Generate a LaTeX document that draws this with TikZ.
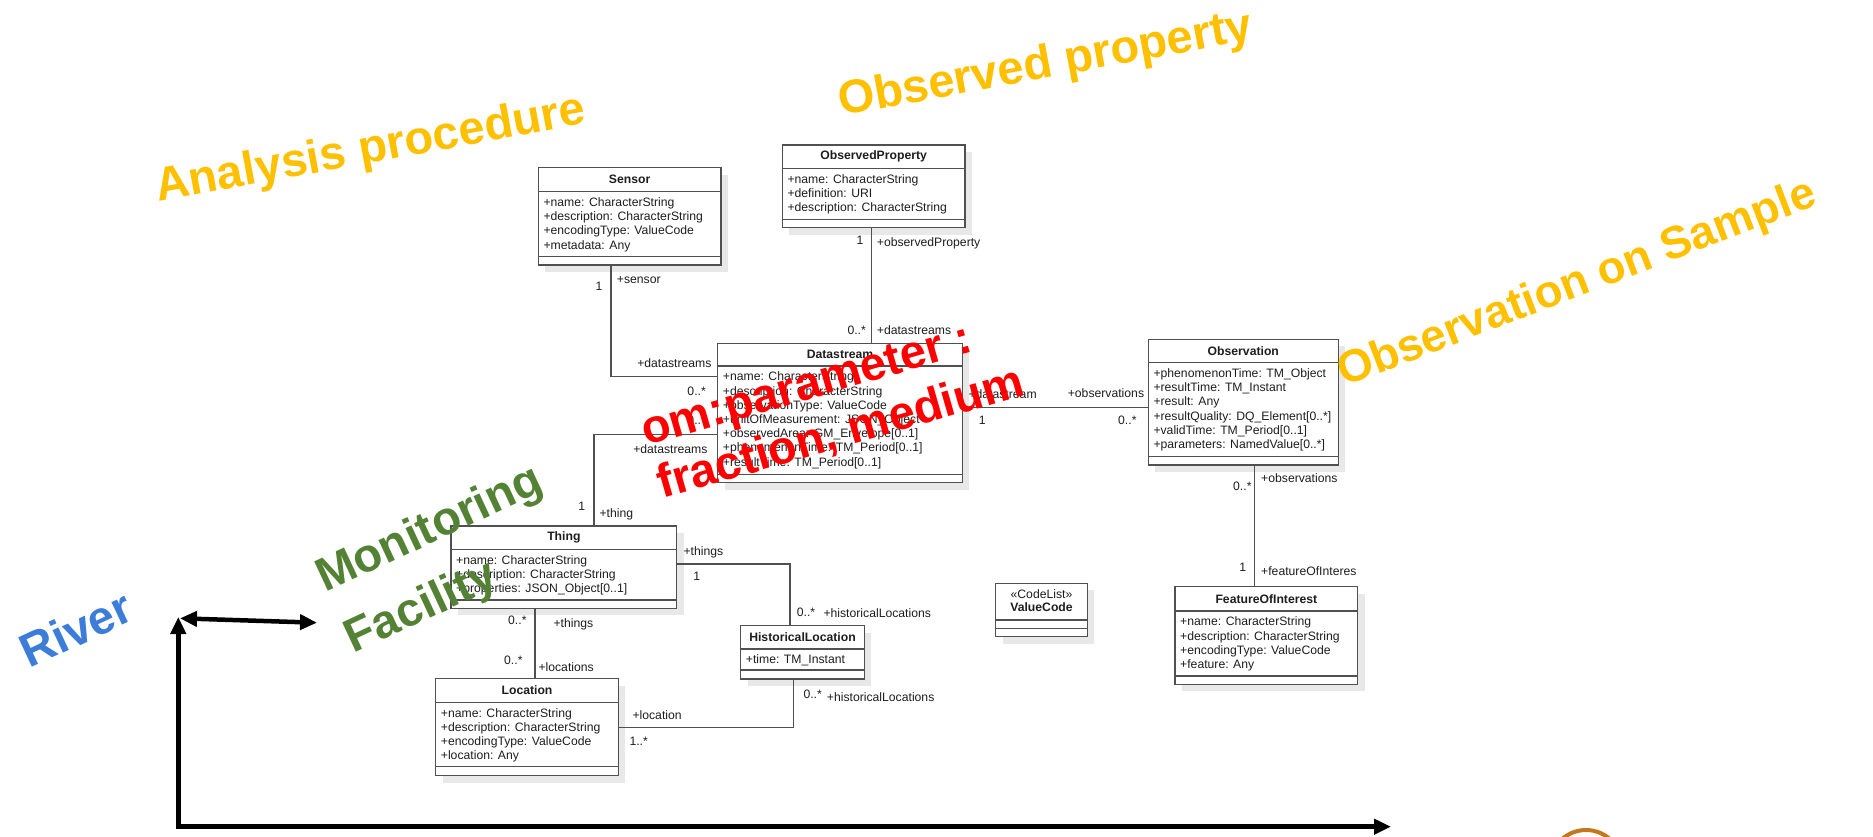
\documentclass[tikz,border=0pt]{standalone}
\usepackage{fontspec}
\setmainfont{Liberation Sans}
\usetikzlibrary{arrows.meta,calc}
\definecolor{ogold}{RGB}{255,192,0}
\definecolor{mgreen}{RGB}{84,130,53}
\definecolor{rblue}{RGB}{59,125,216}
\definecolor{cbrown}{RGB}{196,120,30}
\definecolor{uline}{RGB}{80,80,80}
\definecolor{utext}{RGB}{30,30,30}
\definecolor{ushadow}{RGB}{232,232,232}

% #1 name, #2 left, #3 top, #4 right, #5 bottom, #6 header sep, #7 attr sep, #8 title
\newcommand{\umlclass}[8]{%
  \fill[ushadow] (#2+7,#3+7) rectangle (#4+7,#5+7);
  \pgfmathsetmacro\umlw{#4-#2}\pgfmathsetmacro\umlh{#5-#3}
  \node[umlframe, minimum width=\umlw pt, minimum height=\umlh pt] (#1) at (#2,#3) {};
  \draw[conn] (#2,#6) -- (#4,#6) (#2,#7) -- (#4,#7);
  \node[umltitle] (#1-title) at ({(#2+#4)/2},{(#3+#6)/2}) {#8};
}
% #1 name, #2 left, #3 header sep, #4 list of attributes
\newcommand{\umlattrs}[4]{%
  \foreach \atext [count=\ai] in {#4} {
    \node[umlattr] (#1-a\ai) at (#2+5, #3+0.6+14.2*\ai) {\atext};
  }
}

\begin{document}
\begin{tikzpicture}[x=1pt,y=-1pt,
  umlframe/.style={draw=uline, line width=1.2pt, fill=white, inner sep=0pt, outer sep=0pt, anchor=north west},
  umltitle/.style={font=\fontsize{12.2}{14}\selectfont\bfseries, text=utext, inner sep=0pt},
  umlattr/.style={font=\fontsize{12.2}{14}\selectfont, text=utext, inner sep=0pt, anchor=base west},
  conn/.style={draw=uline, line width=1.2pt},
  lab/.style={font=\fontsize{12.2}{14}\selectfont, text=utext, inner sep=0pt},
  bigarrow/.style={line width=4.5pt, line join=miter, {Triangle[length=17pt,width=15pt]}-{Triangle[length=17pt,width=15pt]}},
  overlaytxt/.style={font=\fontsize{47}{56}\selectfont\bfseries, inner sep=0pt, anchor=base west}]

\fill[white] (0,0) rectangle (1873,836);
\useasboundingbox (0,0) rectangle (1873,836);

% ---------- classes ----------
\umlclass{sensor}{538.3}{167.7}{721}{265}{191.7}{256.7}{Sensor}
\umlattrs{sensor}{538.3}{191.7}{+name: CharacterString,+description: CharacterString,+encodingType: ValueCode,+metadata: Any}

\umlclass{op}{782.3}{145}{965}{227.7}{168.3}{219.3}{ObservedProperty}
\umlattrs{op}{782.3}{168.3}{+name: CharacterString,+definition: URI,+description: CharacterString}

\umlclass{ds}{717.7}{343.3}{962.3}{482.7}{366}{474.3}{Datastream}
\umlattrs{ds}{717.7}{366}{+name: CharacterString,+description: CharacterString,+observationType: ValueCode,+unitOfMeasurement: JSON\_Object,+observedArea: GM\_Envelope[0..1],+phenomenonTime: TM\_Period[0..1],+resultTime: TM\_Period[0..1]}

\umlclass{obs}{1148.3}{339.3}{1338.3}{465}{362.7}{456.7}{Observation}
\umlattrs{obs}{1148.3}{362.7}{+phenomenonTime: TM\_Object,+resultTime: TM\_Instant,+result: Any,+resultQuality: DQ\_Element[0..*],+validTime: TM\_Period[0..1],+parameters: NamedValue[0..*]}

\umlclass{thing}{451}{526}{676.7}{608.3}{549.3}{600}{Thing}
\umlattrs{thing}{451}{549.3}{+name: CharacterString,+description: CharacterString,+properties: JSON\_Object[0..1]}

\umlclass{hl}{740.7}{625.7}{864.3}{679}{649}{670}{HistoricalLocation}
\umlattrs{hl}{740.7}{649}{+time: TM\_Instant}

\umlclass{loc}{435.7}{678.7}{618.3}{775.7}{702.3}{766.7}{Location}
\umlattrs{loc}{435.7}{702.3}{+name: CharacterString,+description: CharacterString,+encodingType: ValueCode,+location: Any}

\umlclass{foi}{1175}{586.7}{1357.7}{684.3}{611}{676}{FeatureOfInterest}
\umlattrs{foi}{1175}{611}{+name: CharacterString,+description: CharacterString,+encodingType: ValueCode,+feature: Any}

% ValueCode code list
\fill[ushadow] (1002.7,590.3) rectangle (1094.3,643.7);
\node[umlframe, minimum width=91.6pt, minimum height=53.4pt] (vc) at (995.7,583.3) {};
\draw[conn] (995.7,620) -- (1087.3,620) (995.7,628.3) -- (1087.3,628.3);
\node[lab] (vc-st) at (1041.5,594) {«CodeList»};
\node[umltitle] (vc-title) at (1041.5,607.3) {ValueCode};

% ---------- connectors ----------
\draw[conn] ([xshift=72.7pt]sensor.south west) |- ([yshift=-33.4pt]ds.north west);
\draw[conn] ([xshift=89.4pt]op.south west) -- ([xshift=154pt]ds.north west);
\draw[conn] ([yshift=-91pt]ds.north west) -| ([xshift=143pt]thing.north west);
\draw[conn] ([yshift=-64.4pt]ds.north east) -- ([yshift=-68.4pt]obs.north west);
\draw[conn] ([xshift=106pt]obs.south west) -- ([xshift=79.3pt]foi.north west);
\draw[conn] ([yshift=-38pt]thing.north east) -| ([xshift=49.3pt]hl.north west);
\draw[conn] ([xshift=52.6pt]hl.south west) |- ([yshift=-48.6pt]loc.north east);
\draw[conn] ([xshift=84pt]thing.south west) -- ([xshift=99.3pt]loc.north west);

% ---------- connector labels ----------
\node[lab] (l1) at (599,286) {1};
\node[lab, anchor=west] (l2) at (616.7,280) {+sensor};
\node[lab, anchor=east] (l3) at (711.7,363.3) {+datastreams};
\node[lab, anchor=east] (l4) at (706,391) {0..*};

\node[lab] (l5) at (860,240) {1};
\node[lab, anchor=west] (l6) at (876.7,243.6) {+observedProperty};
\node[lab, anchor=east] (l7) at (866,330) {0..*};
\node[lab, anchor=west] (l8) at (876.7,330) {+datastreams};

\node[lab, anchor=east] (l9) at (706,420) {0..*};
\node[lab, anchor=east] (l10) at (707.7,449) {+datastreams};
\node[lab] (l11) at (581.7,506.7) {1};
\node[lab, anchor=west] (l12) at (599.3,514.3) {+thing};

\node[lab, anchor=west] (l13) at (968.3,394.3) {+datastream};
\node[lab] (l14) at (982.3,420.7) {1};
\node[lab, anchor=east] (l15) at (1144.3,393.3) {+observations};
\node[lab, anchor=east] (l16) at (1136.7,420.7) {0..*};

\node[lab, anchor=east] (l17) at (1251.7,486.7) {0..*};
\node[lab, anchor=west] (l18) at (1261,477.7) {+observations};
\node[lab] (l19) at (1242.7,567.7) {1};
\node[lab, anchor=west] (l20) at (1261,570.7) {+featureOfInteres};

\node[lab, anchor=west] (l21) at (683.3,552.3) {+things};
\node[lab] (l22) at (696.7,576.7) {1};
\node[lab, anchor=west] (l23) at (796.7,612.7) {0..*};
\node[lab, anchor=west] (l24) at (823.3,612.7) {+historicalLocations};

\node[lab, anchor=west] (l25) at (803.3,694) {0..*};
\node[lab, anchor=west] (l26) at (826.7,697.3) {+historicalLocations};
\node[lab, anchor=west] (l27) at (632.3,715.3) {+location};
\node[lab, anchor=west] (l28) at (629.3,741) {1..*};

\node[lab, anchor=east] (l29) at (526.7,620) {0..*};
\node[lab, anchor=west] (l30) at (553.3,624) {+things};
\node[lab, anchor=east] (l31) at (522.7,660.7) {0..*};
\node[lab, anchor=west] (l32) at (538.3,666.7) {+locations};

% ---------- big arrows and circle ----------
\coordinate (axY) at (178.3,617);
\coordinate (axO) at (178.3,826.7);
\coordinate (axX) at (1391,826.7);
\coordinate (dL) at (180,618.3);
\coordinate (dR) at (317,622.7);
\draw[bigarrow] (axY) -- (axO) -- (axX);
\draw[bigarrow] (dL) -- (dR);
\draw[cbrown, line width=4pt] (1586,866) circle[radius=36pt];

% ---------- overlay texts ----------
\node[overlaytxt, text=ogold, rotate=10.4] (t-ap) at (158,202) {Analysis procedure};
\node[overlaytxt, text=ogold, rotate=10.5] (t-op) at (841,116) {Observed property};
\node[overlaytxt, text=ogold, rotate=21, font=\fontsize{45.5}{54}\selectfont\bfseries] (t-os) at (1344,387) {Observation on Sample};
\node[overlaytxt, text=red, rotate=16] (t-om1) at (646,446) {om:parameter :};
\node[overlaytxt, text=red, rotate=16] (t-om2) at (662,499) {fraction, medium};
\node[overlaytxt, text=mgreen, rotate=25] (t-mf1) at (325.3,593) {Monitoring};
\node[overlaytxt, text=mgreen, rotate=25] (t-mf2) at (353.7,654) {Facility};
\node[overlaytxt, text=rblue, rotate=25] (t-rv) at (29.5,669) {River};
\end{tikzpicture}
\end{document}
